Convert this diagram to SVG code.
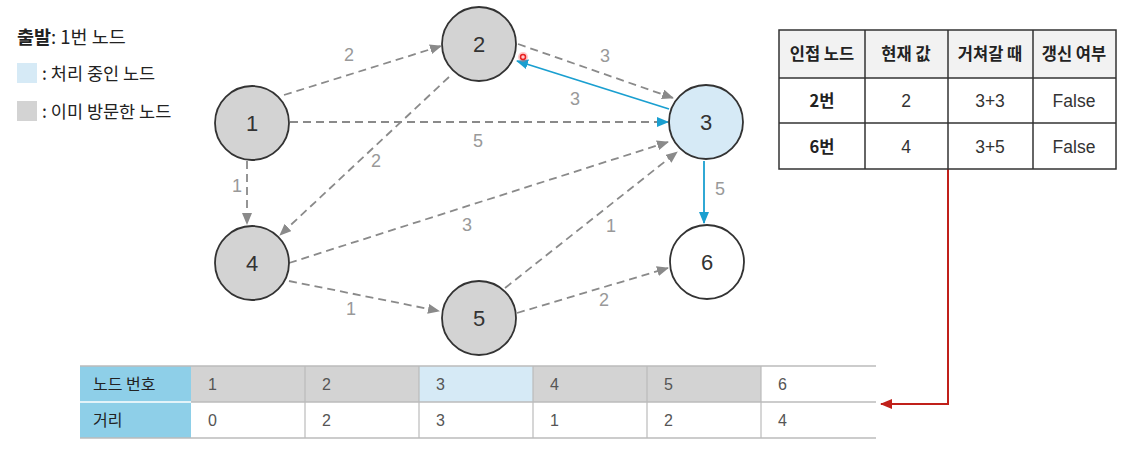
<svg xmlns="http://www.w3.org/2000/svg" width="1128" height="451" viewBox="0 0 1128 451">
<style>
text{font-family:"Liberation Sans","Noto Sans CJK KR",sans-serif}
.kr{font-family:"Noto Sans CJK KR","Noto Sans",sans-serif}
.node{stroke:#333;stroke-width:1.8}
.nl{font-size:22px;fill:#333;text-anchor:middle}
.el{font-size:18px;fill:#999;text-anchor:middle}
.dash{stroke:#8a8a8a;stroke-width:1.8;stroke-dasharray:8 5;fill:none}
.blue{stroke:#1a9fd0;stroke-width:1.8;fill:none}
.th{font-size:16.5px;font-weight:bold;fill:#222;text-anchor:middle}
.td{font-size:17.5px;fill:#333;text-anchor:middle}
.bt{font-size:16px;fill:#555}
</style>
<defs>
<marker id="ag" markerUnits="userSpaceOnUse" markerWidth="12" markerHeight="10" refX="11" refY="5" orient="auto"><path d="M0,0 L12,5 L0,10 Z" fill="#8a8a8a"/></marker>
<marker id="ab" markerUnits="userSpaceOnUse" markerWidth="12" markerHeight="10" refX="11" refY="5" orient="auto"><path d="M0,0 L12,5 L0,10 Z" fill="#1a9fd0"/></marker>
<marker id="ar" markerUnits="userSpaceOnUse" markerWidth="12" markerHeight="10" refX="11" refY="5" orient="auto"><path d="M0,0 L12,5 L0,10 Z" fill="#c0201a"/></marker>
</defs>

<g id="legend">
<text x="17" y="44" class="kr" font-size="18.5" fill="#222"><tspan font-weight="bold">출발</tspan>: 1번 노드</text>
<rect x="17" y="63" width="20" height="20" fill="#d6eaf6"/>
<text x="42" y="80" class="kr" font-size="17.5" fill="#222">: 처리 중인 노드</text>
<rect x="17" y="101" width="20" height="20" fill="#d3d3d3"/>
<text x="42" y="118" class="kr" font-size="17.5" fill="#222">: 이미 방문한 노드</text>
</g>

<g id="connectors">
<line class="dash" x1="284" y1="95" x2="441" y2="46" marker-end="url(#ag)"/>
<line class="dash" x1="290" y1="122" x2="668" y2="122" marker-end="url(#ab)"/>
<line class="dash" x1="247" y1="161" x2="247" y2="224" marker-end="url(#ag)"/>
<line class="dash" x1="518" y1="44" x2="673" y2="98" marker-end="url(#ag)"/>
<line class="blue" x1="669" y1="109" x2="517" y2="61" marker-end="url(#ab)"/>
<line class="dash" x1="449" y1="77" x2="280" y2="235" marker-end="url(#ag)"/>
<line class="dash" x1="289" y1="263" x2="668" y2="142" marker-end="url(#ag)"/>
<line class="dash" x1="505" y1="288" x2="677" y2="152" marker-end="url(#ag)"/>
<line class="dash" x1="289" y1="281" x2="439" y2="311" marker-end="url(#ag)"/>
<line class="dash" x1="517" y1="313" x2="668" y2="268" marker-end="url(#ag)"/>
<line class="blue" x1="704" y1="161" x2="704" y2="223" marker-end="url(#ab)"/>
<polyline points="948,169 948,404 881,404" fill="none" stroke="#c0201a" stroke-width="2" marker-end="url(#ar)"/>
<text class="el" x="349" y="61">2</text>
<text class="el" x="478" y="147">5</text>
<text class="el" x="237" y="192">1</text>
<text class="el" x="605" y="62">3</text>
<text class="el" x="575" y="105">3</text>
<text class="el" x="376" y="167">2</text>
<text class="el" x="467" y="231">3</text>
<text class="el" x="611" y="232">1</text>
<text class="el" x="351" y="315">1</text>
<text class="el" x="604" y="306">2</text>
<text class="el" x="720" y="195">5</text>
</g>

<g id="node1"><circle class="node" cx="252" cy="123" r="37" fill="#d3d3d3"/><text class="nl" x="252" y="131">1</text></g>
<g id="node2"><circle class="node" cx="479" cy="44" r="37" fill="#d3d3d3"/><text class="nl" x="479" y="52">2</text></g>
<g id="node3"><circle class="node" cx="706" cy="122" r="37" fill="#d6eaf6"/><text class="nl" x="706" y="130">3</text></g>
<g id="node4"><circle class="node" cx="252" cy="263" r="37" fill="#d3d3d3"/><text class="nl" x="252" y="271">4</text></g>
<g id="node5"><circle class="node" cx="479" cy="318" r="37" fill="#d3d3d3"/><text class="nl" x="479" y="326">5</text></g>
<g id="node6"><circle class="node" cx="707" cy="262" r="37" fill="#ffffff"/><text class="nl" x="707" y="270">6</text></g>

<circle cx="523" cy="57" r="5" fill="#ff6b6b" opacity="0.35"/>
<circle cx="523" cy="57" r="2.5" fill="none" stroke="#e82020" stroke-width="1.5"/>

<g id="update-table">
<rect x="779" y="30" width="337" height="48" fill="#f2f2f2"/>
<rect x="779" y="30" width="337" height="139" fill="none" stroke="#333" stroke-width="1.5"/>
<line x1="779" y1="78" x2="1116" y2="78" stroke="#333" stroke-width="1.5"/>
<line x1="779" y1="123" x2="1116" y2="123" stroke="#333" stroke-width="1.5"/>
<line x1="865" y1="30" x2="865" y2="169" stroke="#333" stroke-width="1.5"/>
<line x1="948" y1="30" x2="948" y2="169" stroke="#333" stroke-width="1.5"/>
<line x1="1033" y1="30" x2="1033" y2="169" stroke="#333" stroke-width="1.5"/>
<text class="th kr" x="822" y="60">인접 노드</text>
<text class="th kr" x="906" y="60">현재 값</text>
<text class="th kr" x="990" y="60">거쳐갈 때</text>
<text class="th kr" x="1074" y="60">갱신 여부</text>
<text class="th kr" x="822" y="107" font-size="17">2번</text>
<text class="td" x="906" y="107">2</text>
<text class="td" x="990" y="107">3+3</text>
<text class="td" x="1074" y="107">False</text>
<text class="th kr" x="822" y="153" font-size="17">6번</text>
<text class="td" x="906" y="153">4</text>
<text class="td" x="990" y="153">3+5</text>
<text class="td" x="1074" y="153">False</text>
</g>

<g id="distance-table">
<rect x="80" y="366" width="111" height="72" fill="#8ecfe8"/>
<rect x="191" y="366" width="228" height="36" fill="#d3d3d3"/>
<rect x="419" y="366" width="114" height="36" fill="#d6eaf6"/>
<rect x="533" y="366" width="228" height="36" fill="#d3d3d3"/>
<line x1="80" y1="402" x2="191" y2="402" stroke="#fff" stroke-width="1.5"/>
<line x1="191" y1="402" x2="876" y2="402" stroke="#bbb" stroke-width="1.5"/>
<line x1="80" y1="366" x2="876" y2="366" stroke="#bbb" stroke-width="1.5"/>
<line x1="80" y1="438" x2="876" y2="438" stroke="#bbb" stroke-width="1.5"/>
<g stroke="#bbb" stroke-width="1.2">
<line x1="305" y1="366" x2="305" y2="438"/>
<line x1="419" y1="366" x2="419" y2="438"/>
<line x1="533" y1="366" x2="533" y2="438"/>
<line x1="647" y1="366" x2="647" y2="438"/>
<line x1="761" y1="366" x2="761" y2="438"/>
</g>
<text class="kr" x="93" y="390" font-size="16" fill="#222">노드 번호</text>
<text class="kr" x="93" y="426" font-size="16" fill="#222">거리</text>
<text class="bt" x="208" y="390">1</text><text class="bt" x="322" y="390">2</text><text class="bt" x="436" y="390">3</text><text class="bt" x="550" y="390">4</text><text class="bt" x="664" y="390">5</text><text class="bt" x="778" y="390">6</text>
<text class="bt" x="208" y="426">0</text><text class="bt" x="322" y="426">2</text><text class="bt" x="436" y="426">3</text><text class="bt" x="550" y="426">1</text><text class="bt" x="664" y="426">2</text><text class="bt" x="778" y="426">4</text>
</g>
</svg>
